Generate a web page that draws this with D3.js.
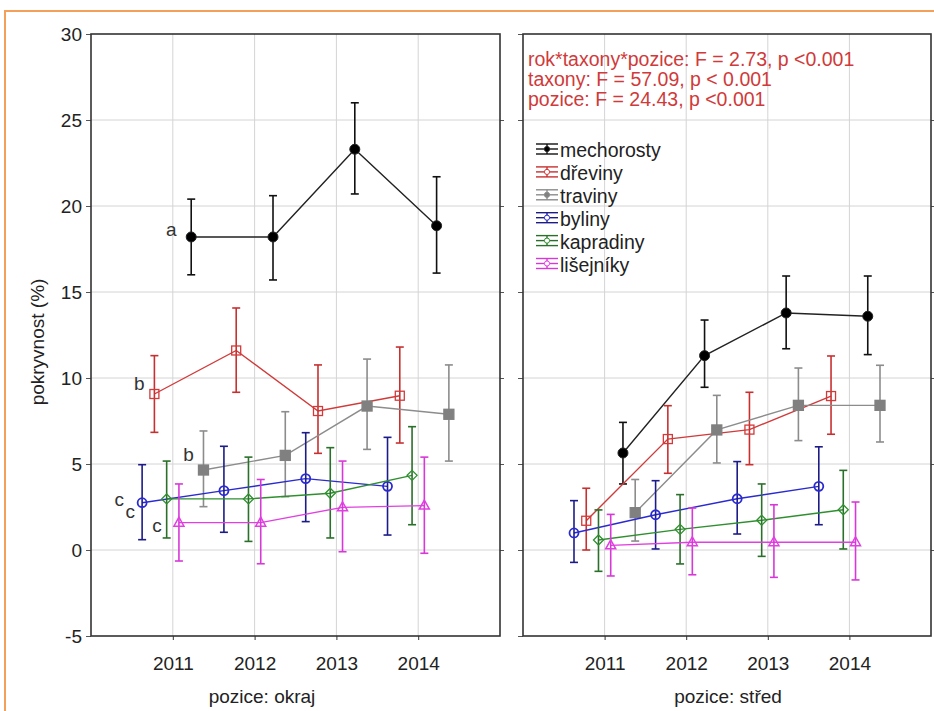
<!DOCTYPE html>
<html>
<head>
<meta charset="utf-8">
<script src="https://cdn.jsdelivr.net/npm/d3@7"></script>
<style>
  body { margin: 0; background: #fff; }
  svg { display: block; font-family: "Liberation Sans", Arial, sans-serif; }
</style>
</head>
<body>
<div id="chart"></div>
<script>
// --- data ---
const years = [2011, 2012, 2013, 2014];
const taxa = ['mechorosty', 'dřeviny', 'traviny', 'byliny', 'kapradiny', 'lišejníky'];
const panels = ['pozice: okraj', 'pozice: střed'];
const yTicks = [-5, 0, 5, 10, 15, 20, 25, 30];

// rows follow taxa order
const okrajMean = [
    [18.2, 18.2, 23.3, 18.85],
    [9.07, 11.6, 8.08, 8.97],
    [4.65, 5.5, 8.37, 7.89],
    [2.75, 3.45, 4.15, 3.7],
    [2.97, 2.97, 3.3, 4.34],
    [1.59, 1.59, 2.48, 2.58]
];
const okrajLow = [
    [16.0, 15.7, 20.7, 16.1],
    [6.84, 9.17, 5.62, 6.22],
    [2.52, 3.1, 5.85, 5.17],
    [0.6, 1.03, 1.65, 0.87],
    [0.7, 0.5, 0.7, 1.47],
    [-0.64, -0.8, -0.1, -0.19]
];
const okrajHigh = [
    [20.4, 20.6, 26.0, 21.7],
    [11.3, 14.07, 10.76, 11.8],
    [6.92, 8.04, 11.1, 10.76],
    [4.96, 6.03, 6.82, 6.55],
    [5.17, 5.4, 5.95, 7.17],
    [3.84, 4.1, 5.17, 5.4]
];
const stredMean = [
    [5.64, 11.3, 13.78, 13.59],
    [1.7, 6.45, 7.0, 8.95],
    [2.17, 6.98, 8.41, 8.41],
    [0.99, 2.05, 2.98, 3.7],
    [0.58, 1.2, 1.73, 2.34],
    [0.27, 0.45, 0.45, 0.45]
];
const stredLow = [
    [3.84, 9.46, 11.7, 11.36],
    [0.0, 4.46, 4.96, 6.73],
    [0.52, 5.06, 6.36, 6.28],
    [-0.72, 0.06, 0.93, 1.47],
    [-1.24, -0.81, -0.37, 0.06],
    [-1.51, -1.44, -1.59, -1.74]
];
const stredHigh = [
    [7.42, 13.37, 15.93, 15.93],
    [3.59, 8.39, 9.17, 11.28],
    [4.1, 8.99, 10.58, 10.74],
    [2.87, 4.03, 5.14, 6.0],
    [2.33, 3.22, 3.84, 4.63],
    [2.07, 2.44, 2.63, 2.79]
];
const statLines = [
    'rok*taxony*pozice: F = 2.73, p <0.001',
    'taxony: F = 57.09, p < 0.001',
    'pozice: F = 24.43, p <0.001'
];
// group letters on the "okraj" panel, attached to a taxon at 2011
const letters = [
    { text: 'a', taxon: 'mechorosty' },
    { text: 'b', taxon: 'dřeviny' },
    { text: 'b', taxon: 'traviny' },
    { text: 'c', taxon: 'byliny' },
    { text: 'c', taxon: 'byliny' },
    { text: 'c', taxon: 'lišejníky' }
];

// --- styling ---
const W = 934, H = 711;
const style = {
    'mechorosty': { line: '#222', bar: '#111', shape: 'circle', fill: '#000' },
    'dřeviny':    { line: '#d23a3a', bar: '#c83030', shape: 'square', fill: 'none' },
    'traviny':    { line: '#8c8c8c', bar: '#8c8c8c', shape: 'square', fill: '#808080' },
    'byliny':     { line: '#2a2ad0', bar: '#1c1c88', shape: 'circle', fill: 'none' },
    'kapradiny':  { line: '#2f8f2f', bar: '#2a702a', shape: 'diamond', fill: 'none' },
    'lišejníky':  { line: '#e040e0', bar: '#d838d8', shape: 'triangle', fill: 'none' }
};
// horizontal dodge of each series (alphabetical order in the source program)
const dodge = { 'byliny': -2.5, 'dřeviny': -1.5, 'kapradiny': -0.5, 'lišejníky': 0.5, 'mechorosty': 1.5, 'traviny': 2.5 };
const dodgeStep = 0.15;
const letterNudge = [[-20, -7], [-15, -10], [-15, -16], [-23, -3], [-12, 9], [-22, 3]];
const fs = 19;

const svg = d3.select('#chart').append('svg').attr('width', W).attr('height', H);
svg.append('rect').attr('width', W).attr('height', H).attr('fill', '#fff');
svg.append('rect')
    .attr('x', 5).attr('y', 11).attr('width', W + 10).attr('height', H + 10)
    .attr('fill', 'none').attr('stroke', '#f5a05a').attr('stroke-width', 2);

const plotTop = 34, plotBottom = 636;
const y = d3.scaleLinear().domain([-5, 30]).range([plotBottom, plotTop]);
const panelX = [[91, 500], [523, 931]];
const titleX = [262, 728];

function marker(sel, shape, fill, color) {
    if (shape === 'circle') {
        sel.append('circle').attr('r', fill === 'none' ? 4.5 : 5)
            .attr('fill', fill).attr('stroke', color).attr('stroke-width', fill === 'none' ? 1.8 : 1);
    } else if (shape === 'square') {
        const s = fill === 'none' ? 9 : 10;
        sel.append('rect').attr('x', -s / 2).attr('y', -s / 2).attr('width', s).attr('height', s)
            .attr('fill', fill).attr('stroke', fill === 'none' ? color : fill).attr('stroke-width', 1.3);
    } else if (shape === 'diamond') {
        sel.append('path').attr('d', 'M0,-5L5,0L0,5L-5,0Z')
            .attr('fill', 'none').attr('stroke', color).attr('stroke-width', 1.3);
    } else {
        sel.append('path').attr('d', 'M0,-5.5L5,3.5L-5,3.5Z')
            .attr('fill', 'none').attr('stroke', color).attr('stroke-width', 1.5);
    }
}

const panelData = [
    [okrajMean, okrajLow, okrajHigh],
    [stredMean, stredLow, stredHigh]
];

panels.forEach((title, p) => {
    const x = d3.scaleLinear().domain([2010, 2015]).range(panelX[p]);
    const g = svg.append('g');

    // grid
    g.selectAll('.vgrid').data(years).enter().append('line')
        .attr('x1', d => x(d)).attr('x2', d => x(d)).attr('y1', plotTop).attr('y2', plotBottom)
        .attr('stroke', '#d4d4d4').attr('stroke-width', 1);
    g.selectAll('.hgrid').data(yTicks.slice(1, -1)).enter().append('line')
        .attr('x1', panelX[p][0]).attr('x2', panelX[p][1]).attr('y1', d => y(d)).attr('y2', d => y(d))
        .attr('stroke', '#d4d4d4').attr('stroke-width', 1);

    // axes
    const ax = g.append('g').attr('transform', `translate(0,${plotBottom})`)
        .call(d3.axisBottom(x).tickValues(years).tickFormat(d3.format('d')).tickSize(4).tickPadding(17));
    ax.select('.domain').remove();
    ax.selectAll('line').attr('stroke', '#333');
    ax.selectAll('text').attr('font-size', fs).attr('fill', '#222');

    const ayl = g.append('g').attr('transform', `translate(${panelX[p][0]},0)`)
        .call(d3.axisLeft(y).tickValues(yTicks).tickSize(5).tickPadding(p === 0 ? 4 : 0)
            .tickFormat(p === 0 ? (d => String(d)) : ''));
    ayl.select('.domain').remove();
    ayl.selectAll('line').attr('stroke', '#555');
    ayl.selectAll('text').attr('font-size', fs).attr('fill', '#222');

    const ayr = g.append('g').attr('transform', `translate(${panelX[p][1]},0)`)
        .call(d3.axisRight(y).tickValues(yTicks.slice(1, -1)).tickSize(4).tickFormat(''));
    ayr.select('.domain').remove();
    ayr.selectAll('line').attr('stroke', '#555');

    g.append('rect')
        .attr('x', panelX[p][0]).attr('y', plotTop)
        .attr('width', panelX[p][1] - panelX[p][0]).attr('height', plotBottom - plotTop)
        .attr('fill', 'none').attr('stroke', '#333').attr('stroke-width', 1.6);

    g.append('text')
        .attr('x', titleX[p]).attr('y', 703)
        .attr('text-anchor', 'middle').attr('font-size', fs).attr('fill', '#222')
        .text(title);

    const [mean, low, high] = panelData[p];
    const xs = (t, yr) => x(yr + dodge[t] * dodgeStep);

    taxa.forEach((t, i) => {
        const st = style[t];
        const pts = years.map((yr, j) => ({ yr, m: mean[i][j], lo: low[i][j], hi: high[i][j] }));
        const sg = g.append('g');

        sg.append('path').datum(pts)
            .attr('d', d3.line().x(d => xs(t, d.yr)).y(d => y(d.m)))
            .attr('fill', 'none').attr('stroke', st.line).attr('stroke-width', 1.4);

        const eb = sg.selectAll('.eb').data(pts).enter().append('g');
        eb.append('line')
            .attr('x1', d => xs(t, d.yr)).attr('x2', d => xs(t, d.yr))
            .attr('y1', d => y(d.lo)).attr('y2', d => y(d.hi))
            .attr('stroke', st.bar).attr('stroke-width', 1.6);
        ['lo', 'hi'].forEach(k => {
            eb.append('line')
                .attr('x1', d => xs(t, d.yr) - 4).attr('x2', d => xs(t, d.yr) + 4)
                .attr('y1', d => y(d[k])).attr('y2', d => y(d[k]))
                .attr('stroke', st.bar).attr('stroke-width', 1.6);
        });

        sg.selectAll('.mk').data(pts).enter().append('g')
            .attr('transform', d => `translate(${xs(t, d.yr)},${y(d.m)})`)
            .each(function () { marker(d3.select(this), st.shape, st.fill, st.line); });
    });

    if (p === 0) {
        letters.forEach((l, k) => {
            const i = taxa.indexOf(l.taxon);
            g.append('text')
                .attr('x', xs(l.taxon, years[0]) + letterNudge[k][0])
                .attr('y', y(mean[i][0]) + letterNudge[k][1])
                .attr('text-anchor', 'middle').attr('dominant-baseline', 'central')
                .attr('font-size', fs).attr('fill', '#333')
                .text(l.text);
        });
    } else {
        g.selectAll('.stat').data(statLines).enter().append('text')
            .attr('x', panelX[p][0] + 5).attr('y', (d, i) => 66 + i * 20)
            .attr('font-size', 19.5).attr('fill', '#d03a3a')
            .text(d => d);

        const lg = g.append('g').attr('transform', `translate(${panelX[p][0] + 13},149)`);
        const item = lg.selectAll('.li').data(taxa).enter().append('g')
            .attr('transform', (d, i) => `translate(0,${i * 22.9})`);
        item.each(function (t) {
            const s = d3.select(this), st = style[t];
            [-5, 0, 5].forEach(dy => s.append('line')
                .attr('x1', 0).attr('x2', 22).attr('y1', dy).attr('y2', dy)
                .attr('stroke', st.bar).attr('stroke-width', 1.4));
            s.append('line').attr('x1', 11).attr('x2', 11).attr('y1', -5).attr('y2', 5)
                .attr('stroke', st.bar).attr('stroke-width', 1.4);
            s.append('circle').attr('cx', 11).attr('r', 2.6)
                .attr('fill', st.fill === 'none' ? '#fff' : st.fill).attr('stroke', st.line).attr('stroke-width', 1);
        });
        item.append('text').attr('x', 24).attr('y', 1).attr('dominant-baseline', 'central')
            .attr('font-size', 19.5).attr('fill', '#222').text(d => d);
    }
});

svg.append('text')
    .attr('transform', 'translate(37,342) rotate(-90)')
    .attr('text-anchor', 'middle').attr('dominant-baseline', 'central')
    .attr('font-size', fs).attr('fill', '#222')
    .text('pokryvnost (%)');
</script>
</body>
</html>
